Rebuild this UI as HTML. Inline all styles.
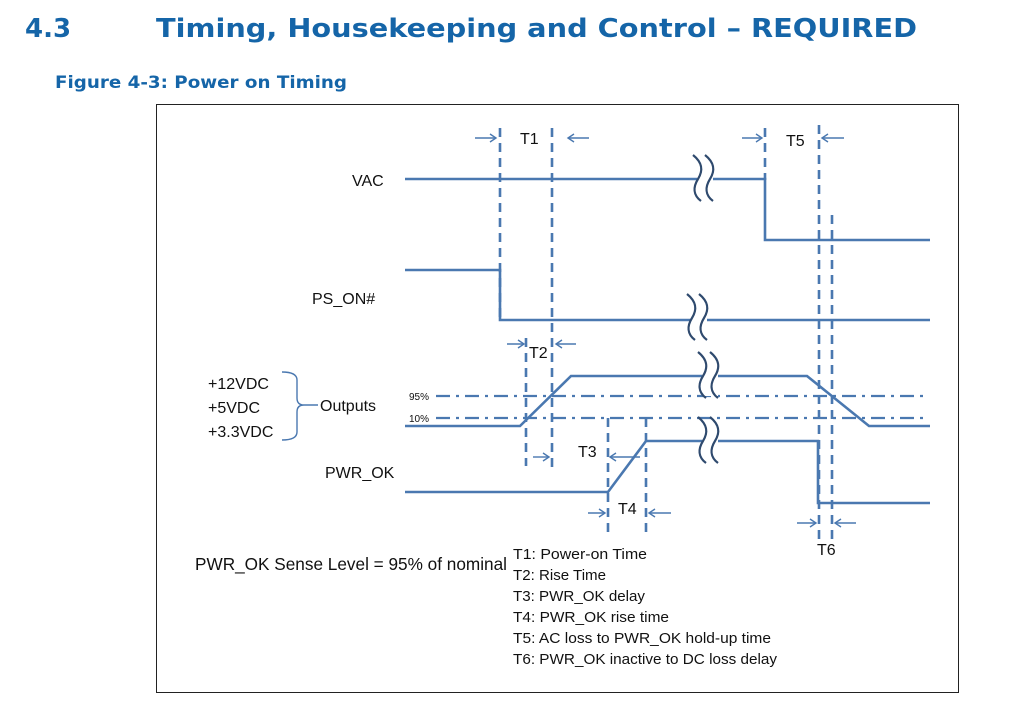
<!DOCTYPE html>
<html><head><meta charset="utf-8"><style>
html,body{margin:0;padding:0;background:#fff;width:1013px;height:707px;overflow:hidden}
svg{display:block}
.t{font-family:"Liberation Sans",sans-serif;fill:#111}
</style></head><body>
<svg width="1013" height="707" viewBox="0 0 1013 707" xmlns="http://www.w3.org/2000/svg">
<defs>
<g id="sq">
<rect x="-2" y="-20" width="16" height="40" fill="#fff"/>
<path d="M-6,-24 C4,-16 4,-8 -1,0 C-6,8 -6,16 2,22" fill="none" stroke="#2f4a6e" stroke-width="2.2"/>
<path d="M6,-24 C16,-16 16,-8 11,0 C6,8 6,16 14,22" fill="none" stroke="#2f4a6e" stroke-width="2.2"/>
</g>
</defs>
<text x="25" y="37" font-family="DejaVu Sans,sans-serif" font-weight="bold" font-size="26" fill="#1565a8">4.3</text>
<text x="156" y="37" font-family="DejaVu Sans,sans-serif" font-weight="bold" font-size="26" fill="#1565a8" textLength="761" lengthAdjust="spacingAndGlyphs">Timing, Housekeeping and Control – REQUIRED</text>
<text x="55" y="88" font-family="DejaVu Sans,sans-serif" font-weight="bold" font-size="16.5" fill="#1565a8" textLength="292" lengthAdjust="spacingAndGlyphs">Figure 4-3: Power on Timing</text>
<rect x="156.5" y="104.5" width="802" height="588" fill="none" stroke="#222" stroke-width="1"/>

<g stroke="#4a78b0" stroke-width="2.6" fill="none">
<!-- dashed verticals -->
<g stroke-dasharray="9,6" stroke-width="2.6">
<line x1="500" y1="128" x2="500" y2="320"/>
<line x1="552" y1="128" x2="552" y2="468"/>
<line x1="765" y1="128" x2="765" y2="180"/>
<line x1="819" y1="125" x2="819" y2="540"/>
<line x1="832" y1="215" x2="832" y2="540"/>
<line x1="526" y1="338" x2="526" y2="466"/>
<line x1="608" y1="418" x2="608" y2="538"/>
<line x1="646" y1="418" x2="646" y2="538"/>
</g>
<!-- dash-dot levels -->
<g stroke-dasharray="14,6,3,6" stroke-width="2.2">
<line x1="436" y1="396" x2="928" y2="396"/>
<line x1="436" y1="418" x2="928" y2="418"/>
</g>
<!-- signals -->
<polyline points="405,179 765,179 765,240 930,240"/>
<polyline points="405,270 500,270 500,320 930,320"/>
<polyline points="405,426 520,426 571,376 807,376 869,426 930,426"/>
<polyline points="405,492 608,492 646,441 818,441 818,503 930,503"/>
<!-- arrows -->
<g stroke-width="1.4">
<line x1="475" y1="138" x2="496" y2="138"/><polyline points="490,134 496,138 490,142"/>
<line x1="568" y1="138" x2="589" y2="138"/><polyline points="574,134 568,138 574,142"/>
<line x1="742" y1="138" x2="762" y2="138"/><polyline points="756,134 762,138 756,142"/>
<line x1="822" y1="138" x2="844" y2="138"/><polyline points="828,134 822,138 828,142"/>
<line x1="507" y1="344" x2="524" y2="344"/><polyline points="518,340 524,344 518,348"/>
<line x1="556" y1="344" x2="576" y2="344"/><polyline points="562,340 556,344 562,348"/>
<line x1="533" y1="457" x2="549" y2="457"/><polyline points="543,453 549,457 543,461"/>
<line x1="610" y1="457" x2="640" y2="457"/><polyline points="616,453 610,457 616,461"/>
<line x1="588" y1="513" x2="605" y2="513"/><polyline points="599,509 605,513 599,517"/>
<line x1="649" y1="513" x2="671" y2="513"/><polyline points="655,509 649,513 655,517"/>
<line x1="797" y1="523" x2="816" y2="523"/><polyline points="810,519 816,523 810,527"/>
<line x1="835" y1="523" x2="856" y2="523"/><polyline points="841,519 835,523 841,527"/>
</g>
<!-- brace -->
<path d="M282,372 Q297,372 297,380 L297,398 Q297,405 304,405 L318,405 M304,405 Q297,405 297,412 L297,432 Q297,440 282,440" stroke-width="1.4"/>
</g>
<use href="#sq" x="699" y="179"/>
<use href="#sq" x="693" y="318"/>
<use href="#sq" x="704" y="376"/>
<use href="#sq" x="704" y="441"/>

<g class="t" font-size="16">
<text x="352" y="186">VAC</text>
<text x="312" y="304">PS_ON#</text>
<text x="208" y="389">+12VDC</text>
<text x="208" y="413">+5VDC</text>
<text x="208" y="437">+3.3VDC</text>
<text x="320" y="411">Outputs</text>
<text x="325" y="478">PWR_OK</text>
<text x="520" y="144">T1</text>
<text x="786" y="146">T5</text>
<text x="529" y="358">T2</text>
<text x="578" y="457">T3</text>
<text x="618" y="514">T4</text>
<text x="817" y="555">T6</text>
<text x="409" y="400" font-size="10">95%</text>
<text x="409" y="422" font-size="10">10%</text>
<text x="195" y="570" font-size="17.5" textLength="312" lengthAdjust="spacingAndGlyphs">PWR_OK Sense Level = 95% of nominal</text>
<g font-size="14.5">
<text x="513" y="559" textLength="134" lengthAdjust="spacingAndGlyphs">T1: Power-on Time</text>
<text x="513" y="580" textLength="93" lengthAdjust="spacingAndGlyphs">T2: Rise Time</text>
<text x="513" y="601" textLength="132" lengthAdjust="spacingAndGlyphs">T3: PWR_OK delay</text>
<text x="513" y="622" textLength="156" lengthAdjust="spacingAndGlyphs">T4: PWR_OK rise time</text>
<text x="513" y="643" textLength="258" lengthAdjust="spacingAndGlyphs">T5: AC loss to PWR_OK hold-up time</text>
<text x="513" y="664" textLength="264" lengthAdjust="spacingAndGlyphs">T6: PWR_OK inactive to DC loss delay</text>
</g>
</g>
</svg>
</body></html>
